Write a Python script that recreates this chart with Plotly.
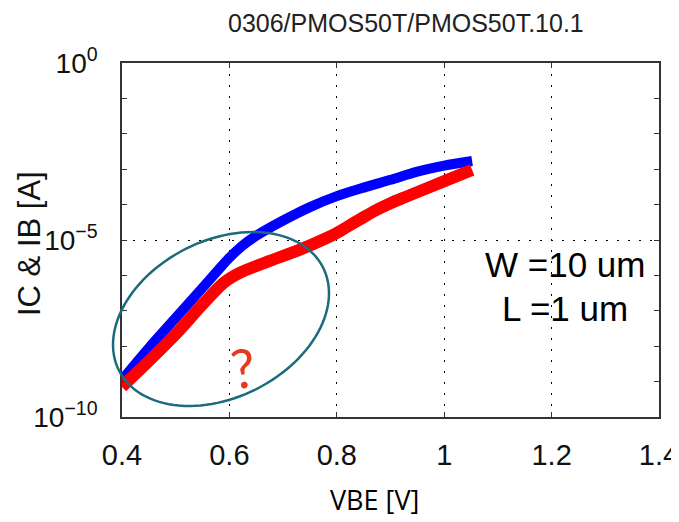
import numpy as np
import plotly.graph_objects as go

# ---- data ----
vbe_ic = [0.400, 0.450, 0.500, 0.550, 0.600, 0.625, 0.650, 0.700, 0.750,
          0.800, 0.850, 0.900, 0.950, 1.000, 1.052]
log_ic = [-8.95, -8.05, -7.20, -6.35, -5.50, -5.15, -4.88, -4.45, -4.07,
          -3.76, -3.52, -3.30, -3.07, -2.90, -2.77]
vbe_ib = [0.400, 0.450, 0.500, 0.550, 0.590, 0.620, 0.670, 0.730, 0.780,
          0.800, 0.820, 0.845, 0.870, 0.900, 0.930, 0.990, 1.052]
log_ib = [-9.15, -8.42, -7.66, -6.82, -6.20, -5.92, -5.62, -5.28, -4.95,
          -4.80, -4.62, -4.40, -4.18, -3.96, -3.77, -3.40, -3.02]
ic = [10 ** v for v in log_ic]
ib = [10 ** v for v in log_ib]

x_ticks = [0.4, 0.6, 0.8, 1.0, 1.2, 1.4]
x_ticktext = ["0.4", "0.6", "0.8", "1", "1.2", "1.4"]
y_ticks = [1e-10, 1e-5, 1e0]
y_ticktext = ["10<sup>\u221210</sup>", "10<sup>\u22125</sup>", "10<sup>0</sup>"]
y_minor = [1e-9, 1e-8, 1e-7, 1e-6, 1e-4, 1e-3, 1e-2, 1e-1]

title_text = "0306/PMOS50T/PMOS50T.10.1"
notes = ["W =10 um", "L =1 um"]

# ---- geometry (screen pixels; page body adds an 8px offset) ----
OFF = 8
PL, PR, PT, PB = 122, 659, 63, 417          # plot box on screen
W, H = 679 - OFF, 522 - OFF
ML, MT = PL - OFF, PT - OFF
MR, MB = 679 - PR, 522 - PB
PW, PH = PR - PL, PB - PT

def pxx(sx):
    return (sx - PL) / PW

def pxy(sy):
    return (PB - sy) / PH

fig = go.Figure()
fig.add_trace(go.Scatter(x=vbe_ic, y=ic, mode="lines",
                         line=dict(color="#0000ff", width=10, shape="spline", smoothing=0.8),
                         showlegend=False))
fig.add_trace(go.Scatter(x=vbe_ib, y=ib, mode="lines",
                         line=dict(color="#ff0000", width=12, shape="spline", smoothing=0.8),
                         showlegend=False))

axis_common = dict(showline=True, linecolor="#333333", linewidth=1.5, mirror="ticks",
                   ticks="inside", ticklen=5, tickcolor="#333333",
                   showgrid=True, gridcolor="#000000", gridwidth=1, griddash="2px,9px",
                   zeroline=False, ticklabeloverflow="allow")

fig.update_xaxes(range=[0.4, 1.4], tickmode="array", tickvals=x_ticks, ticktext=x_ticktext,
                 tickfont=dict(family="Liberation Sans", size=29, color="#111111"),
                 ticklabelstandoff=11, **axis_common)
fig.update_yaxes(type="log", range=[-10, 0], tickmode="array", tickvals=y_ticks, ticktext=y_ticktext,
                 tickfont=dict(family="Liberation Sans", size=28, color="#111111"),
                 ticklabelstandoff=17,
                 minor=dict(tickmode="array", tickvals=y_minor, ticks="inside", ticklen=5,
                            tickcolor="#333333", showgrid=False),
                 **axis_common)

# ellipse highlighting the low-VBE region (screen-pixel parameters -> paper coords)
cx, cy = 221, 319
a, b, theta = 114.3, 78.5, np.deg2rad(26.8)
t = np.linspace(0, 2 * np.pi, 121)
ex = cx + a * np.cos(theta) * np.cos(t) - b * np.sin(theta) * np.sin(t)
ey = cy - (a * np.sin(theta) * np.cos(t) + b * np.cos(theta) * np.sin(t))
path = "M " + " L ".join(f"{pxx(u):.5f},{pxy(v):.5f}" for u, v in zip(ex, ey)) + " Z"
fig.add_shape(type="path", path=path, xref="paper", yref="paper",
              line=dict(color="#1c6b7c", width=2.5))

def note(text, sx, sy, font, angle=0):
    fig.add_annotation(text=text, x=pxx(sx), y=pxy(sy), xref="paper", yref="paper",
                       xanchor="center", yanchor="middle", showarrow=False,
                       textangle=angle, font=font)

note(title_text, 406, 23, dict(family="Liberation Sans", size=25, color="#222222"))
note("IC & IB [A]", 29, 244, dict(family="Liberation Sans", size=31, color="#111111"), -90)
note("VBE [V]", 374, 499, dict(family="Open Sans", size=27, color="#000000"))
for txt, yy in zip(notes, [264, 308]):
    note(txt, 565, yy, dict(family="Liberation Sans", size=35, color="#000000"))
note("?", 243, 367, dict(family="Lato", size=54, color="#e63a1e"), -8)

fig.update_layout(width=W, height=H, margin=dict(l=ML, r=MR, t=MT, b=MB, autoexpand=False),
                  paper_bgcolor="white", plot_bgcolor="white", showlegend=False)

fig.write_html("out.html")
